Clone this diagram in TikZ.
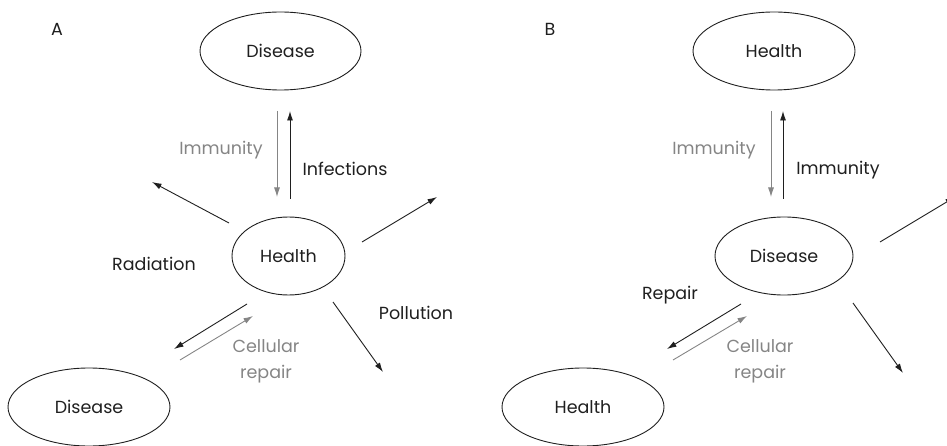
\documentclass[tikz,border=0pt]{standalone}
\usepackage{fontspec}
\setmainfont{Poppins}
\usetikzlibrary{arrows.meta,shapes,backgrounds}
\definecolor{lightgrey}{rgb}{0.52, 0.52, 0.52}
\definecolor{darkink}{rgb}{0.12, 0.12, 0.12}

\begin{document}
\begin{tikzpicture}[x=1pt, y=-1pt, font=\fontsize{17.5}{26}\selectfont, text=darkink,
    state/.style={ellipse, draw=darkink, line width=0.9pt, minimum height=78pt, inner sep=0pt},
    arr/.style={-{Latex[length=9.5pt,width=6pt]}, line width=0.9pt, darkink},
    garr/.style={arr, lightgrey}]
\useasboundingbox (0,0) rectangle (947,446);
%      \draw [help lines, opacity=0.5] (0,0) grid[step=50] (947,446);

      % panel A
      \node (labA) at (57,29) {A};
      \node [state, minimum width=161pt] (dtopA) at (280.5,51) {Disease};
      \node [state, minimum width=113pt] (hmidA) at (288.5,256) {Health};
      \node [state, minimum width=162pt] (dbotA) at (89,407) {Disease};

      \coordinate (a1) at (277,111); \coordinate (a2) at (277,197);
      \coordinate (a3) at (290,199); \coordinate (a4) at (290,111);
      \coordinate (a5) at (229,223); \coordinate (a6) at (152,182);
      \coordinate (a7) at (362,242); \coordinate (a8) at (437,197);
      \coordinate (a9) at (333,302); \coordinate (a10) at (383,372);
      \coordinate (a11) at (247,304); \coordinate (a12) at (174,349);
      \coordinate (a13) at (180,360); \coordinate (a14) at (253,316);

      \draw [garr] (a1) -- (a2);
      \draw [arr] (a3) -- (a4);
      \draw [arr] (a5) -- (a6);
      \draw [arr] (a7) -- (a8);
      \draw [arr] (a9) -- (a10);
      \draw [arr] (a11) -- (a12);
      \draw [garr] (a13) -- (a14);

      \node [lightgrey] (immA) at (221,150) {Immunity};
      \node (infA) at (345,169) {Infections};
      \node (radA) at (154,264) {Radiation};
      \node (polA) at (416,313) {Pollution};
      \node [lightgrey, align=center] (repA) at (266,361) {Cellular\\repair};

      % panel B
      \node (labB) at (550,29) {B};
      \node [state, minimum width=162pt] (htopB) at (774,51) {Health};
      \node [state, minimum width=138pt] (dmidB) at (784,256) {Disease};
      \node [state, minimum width=162pt] (hbotB) at (583,407) {Health};

      \coordinate (b1) at (771,111); \coordinate (b2) at (771,197);
      \coordinate (b3) at (783,199); \coordinate (b4) at (783,111);
      \coordinate (b7) at (880,242); \coordinate (b8) at (955,197);
      \coordinate (b9) at (853,303); \coordinate (b10) at (903,373);
      \coordinate (b11) at (741,304); \coordinate (b12) at (667,349);
      \coordinate (b13) at (673,360); \coordinate (b14) at (747,316);

      \draw [garr] (b1) -- (b2);
      \draw [arr] (b3) -- (b4);
      \draw [arr] (b7) -- (b8);
      \draw [arr] (b9) -- (b10);
      \draw [arr] (b11) -- (b12);
      \draw [garr] (b13) -- (b14);

      \node [lightgrey] (immB) at (714,150) {Immunity};
      \node (immB2) at (838,170) {Immunity};
      \node (repB) at (670,295) {Repair};
      \node [lightgrey, align=center] (celB) at (760,361) {Cellular\\repair};
\end{tikzpicture}
\end{document}
